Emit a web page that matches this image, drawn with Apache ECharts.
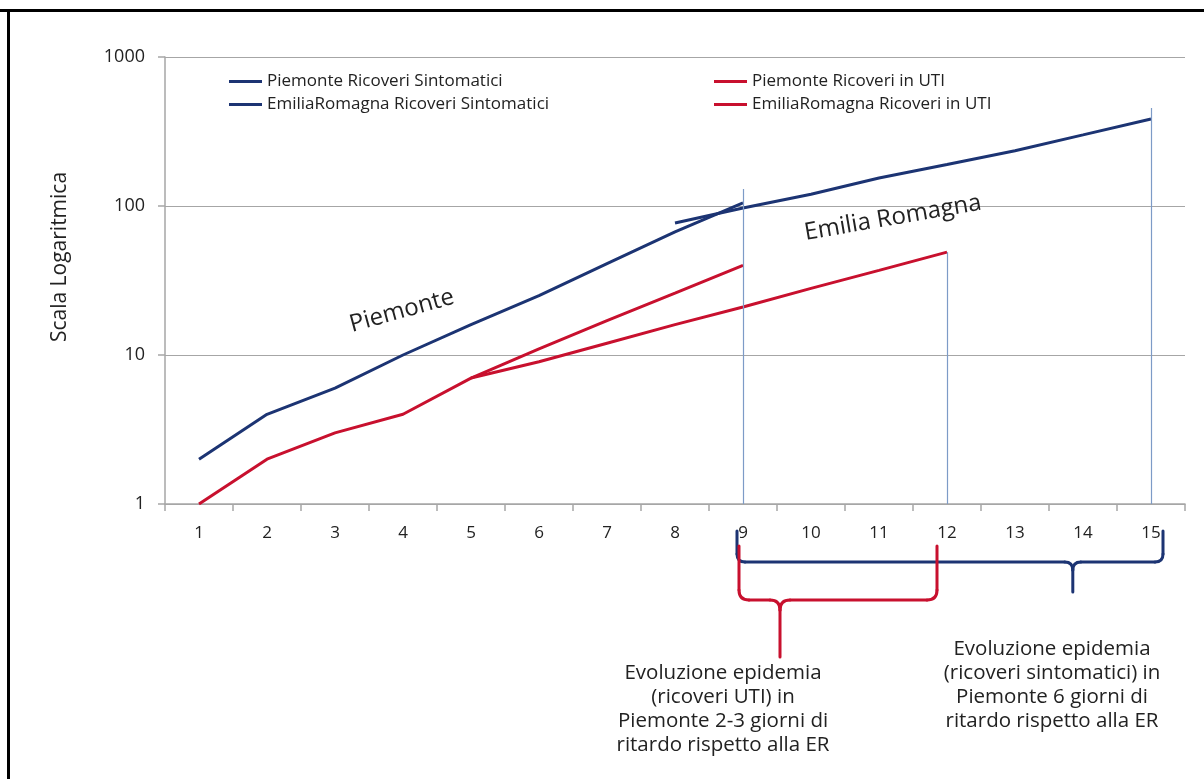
<!DOCTYPE html>
<html>
<head>
<meta charset="utf-8">
<script src="https://cdn.jsdelivr.net/npm/echarts@6/dist/echarts.min.js"></script>
<style>
  html, body { margin: 0; padding: 0; background: #fff; }
  #chart { width: 1204px; height: 779px; }
</style>
</head>
<body>
<div id="chart"></div>
<script>
// giorni (asse x)
var categories = ['1', '2', '3', '4', '5', '6', '7', '8', '9', '10', '11', '12', '13', '14', '15'];
var yTicks = [1, 10, 100, 1000];

// valori
var piemonteSint = [2, 4, 6, 10, 16, 25, 41, 67, 105, null, null, null, null, null, null];
var emiliaSint = [null, null, null, null, null, null, null, 77, 97, 120, 154, 190, 235, 300, 384];
var piemonteUti = [1, 2, 3, 4, 7, 11, 17, 26, 40, null, null, null, null, null, null];
var emiliaUti = [null, null, null, null, 7, 9, 12, 16, 21, 28, 37, 49, null, null, null];

// linee verticali di riferimento: [giorno, altezza]
var refLines = [['9', 130], ['12', 49], ['15', 455]];

var BLUE = '#1c3473';
var RED = '#c8102e';
var FONT = 'Open Sans';

var myChart = echarts.init(document.getElementById('chart'));

function lineSeries(name, data, color) {
  return {
    name: name,
    type: 'line',
    data: data,
    symbol: 'none',
    connectNulls: false,
    lineStyle: { color: color, width: 3 },
    itemStyle: { color: color },
    z: 3
  };
}

var series = [
  lineSeries('Piemonte Ricoveri Sintomatici', piemonteSint, BLUE),
  lineSeries('EmiliaRomagna Ricoveri Sintomatici', emiliaSint, BLUE),
  lineSeries('Piemonte Ricoveri in UTI', piemonteUti, RED),
  lineSeries('EmiliaRomagna Ricoveri in UTI', emiliaUti, RED)
];
series[0].markLine = {
  silent: true,
  symbol: 'none',
  label: { show: false },
  lineStyle: { color: '#7d9bc7', width: 1.2, type: 'solid' },
  data: refLines.map(function (r) {
    return [{ coord: [r[0], 1] }, { coord: [r[0], r[1]] }];
  })
};

var legendText = { fontFamily: FONT, fontSize: 17, color: '#222' };

var option = {
  animation: false,
  backgroundColor: '#fff',
  textStyle: { fontFamily: FONT },
  grid: { left: 165, right: 19, top: 57, bottom: 275 },
  legend: [{
    data: ['Piemonte Ricoveri Sintomatici', 'EmiliaRomagna Ricoveri Sintomatici'],
    orient: 'vertical', left: 229, top: 73, padding: 0,
    icon: 'rect', itemWidth: 33, itemHeight: 3, itemGap: 6,
    textStyle: legendText, selectedMode: false
  }, {
    data: ['Piemonte Ricoveri in UTI', 'EmiliaRomagna Ricoveri in UTI'],
    orient: 'vertical', left: 714, top: 73, padding: 0,
    icon: 'rect', itemWidth: 33, itemHeight: 3, itemGap: 6,
    textStyle: legendText, selectedMode: false
  }],
  xAxis: {
    type: 'category',
    data: categories,
    boundaryGap: true,
    axisLine: { lineStyle: { color: '#a6a6a6', width: 1.5 } },
    axisTick: { show: true, length: 7, lineStyle: { color: '#a6a6a6', width: 1.5 } },
    axisLabel: { fontFamily: FONT, fontSize: 17, color: '#222', margin: 21 },
    splitLine: { show: false }
  },
  yAxis: {
    type: 'log',
    logBase: 10,
    min: yTicks[0],
    max: yTicks[yTicks.length - 1],
    axisLine: { show: true, lineStyle: { color: '#a6a6a6', width: 1.5 } },
    axisTick: { show: true, length: 7, lineStyle: { color: '#a6a6a6', width: 1.5 } },
    axisLabel: {
      fontFamily: FONT, fontSize: 18, color: '#222', margin: 20,
      formatter: function (v) { return String(Math.round(v)); }
    },
    splitLine: { show: true, lineStyle: { color: '#a6a6a6', width: 1.2 } }
  },
  series: series
};

myChart.setOption(option);

// annotazioni, posizionate tramite le scale del grafico
function px(cat, val) {
  return myChart.convertToPixel({ xAxisIndex: 0, yAxisIndex: 0 }, [cat, val]);
}
var p9 = px('9', 1), p12 = px('12', 1), p13 = px('13', 1), p14 = px('14', 1), p15 = px('15', 1);

// parentesi graffa orizzontale fatta di segmenti e curve
function bracket(x1, x2, tip, y0, yh, tipY, r, color) {
  var st = { stroke: color, lineWidth: 3, fill: null, lineCap: 'round' };
  function ln(a, b, c, d) { return { type: 'line', shape: { x1: a, y1: b, x2: c, y2: d }, style: st }; }
  function qc(a, b, cx, cy, c, d) {
    return { type: 'bezierCurve', shape: { x1: a, y1: b, cpx1: cx, cpy1: cy, x2: c, y2: d }, style: st };
  }
  return [
    ln(x1, y0, x1, yh - r),
    qc(x1, yh - r, x1, yh, x1 + r, yh),
    ln(x1 + r, yh, tip - r, yh),
    qc(tip - r, yh, tip, yh, tip, yh + r),
    ln(tip, yh + r, tip, tipY),
    qc(tip, yh + r, tip, yh, tip + r, yh),
    ln(tip + r, yh, x2 - r, yh),
    qc(x2 - r, yh, x2, yh, x2, yh - r),
    ln(x2, yh - r, x2, y0)
  ];
}

var blueTip = p13[0] + (p14[0] - p13[0]) * 0.85;
var redTip = p9[0] + 37;
var textStyleNote = { fontFamily: FONT, fontSize: 20.5, fill: '#222', align: 'center', lineHeight: 24 };

var graphics = [
  // cornice
  { type: 'line', shape: { x1: 0, y1: 10.5, x2: 1204, y2: 10.5 }, style: { stroke: '#000', lineWidth: 3 } },
  { type: 'line', shape: { x1: 8.5, y1: 9, x2: 8.5, y2: 779 }, style: { stroke: '#000', lineWidth: 3 } },
  // titolo asse y
  {
    type: 'text', x: 60, y: 257, rotation: Math.PI / 2,
    style: { text: 'Scala Logaritmica', fontFamily: FONT, fontSize: 21, fill: '#222', align: 'center', verticalAlign: 'middle' }
  },
  {
    type: 'text', x: 402, y: 311, rotation: 0.27,
    style: { text: 'Piemonte', fontFamily: FONT, fontSize: 24, fill: '#222', align: 'center', verticalAlign: 'middle' }
  },
  {
    type: 'text', x: 893, y: 218, rotation: 0.17,
    style: { text: 'Emilia Romagna', fontFamily: FONT, fontSize: 24, fill: '#222', align: 'center', verticalAlign: 'middle' }
  },
  {
    type: 'text', x: 723, y: 661,
    style: Object.assign({ text: 'Evoluzione epidemia\n(ricoveri UTI) in\nPiemonte 2-3 giorni di\nritardo rispetto alla ER' }, textStyleNote)
  },
  {
    type: 'text', x: 1052, y: 637,
    style: Object.assign({ text: 'Evoluzione epidemia\n(ricoveri sintomatici) in\nPiemonte 6 giorni di\nritardo rispetto alla ER' }, textStyleNote)
  }
];
graphics = graphics
  .concat(bracket(p9[0] - 6, p15[0] + 12, blueTip, 531, 562, 592, 8, BLUE))
  .concat(bracket(p9[0] - 4, p12[0] - 10, redTip, 546, 600, 657, 10, RED));

myChart.setOption({ graphic: graphics });
</script>
</body>
</html>
